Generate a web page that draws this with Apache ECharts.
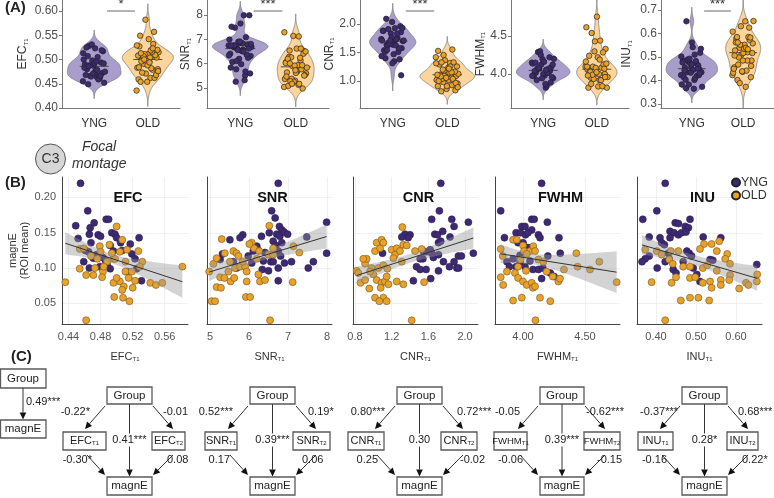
<!DOCTYPE html>
<html><head><meta charset="utf-8">
<script src="https://cdn.jsdelivr.net/npm/echarts@6/dist/echarts.min.js"></script>
<style>html,body{margin:0;padding:0;background:#fff}#c{width:774px;height:498px}</style>
</head><body><div id="c"></div>
<script>
// ---------------- DATA ----------------
const groups = ['YNG', 'OLD'];
const metricNames = ['EFC', 'SNR', 'CNR', 'FWHM', 'INU'];
// [metric T1 value, magnE (ROI mean)]
const efcYNG = [[0.455,0.220],[0.464,0.181],[0.449,0.160],[0.472,0.164],[0.487,0.169],[0.490,0.169],[0.467,0.157],[0.466,0.148],[0.452,0.142],[0.477,0.147],[0.480,0.145],[0.494,0.150],[0.498,0.148],[0.500,0.143],[0.505,0.136],[0.528,0.143],[0.517,0.134],[0.492,0.132],[0.468,0.136],[0.461,0.125],[0.465,0.123],[0.475,0.119],[0.496,0.124],[0.507,0.125],[0.519,0.120],[0.471,0.114],[0.483,0.115],[0.459,0.109],[0.488,0.105],[0.492,0.099],[0.523,0.113],[0.525,0.099],[0.466,0.100],[0.531,0.082],[0.513,0.095],[0.479,0.102],[0.486,0.111]];
const efcOLD = [[0.436,0.080],[0.462,0.026],[0.500,0.159],[0.507,0.140],[0.454,0.127],[0.459,0.128],[0.479,0.131],[0.491,0.133],[0.480,0.123],[0.496,0.113],[0.454,0.099],[0.462,0.090],[0.471,0.090],[0.483,0.095],[0.482,0.087],[0.498,0.113],[0.504,0.123],[0.511,0.109],[0.527,0.124],[0.532,0.109],[0.511,0.095],[0.515,0.086],[0.504,0.081],[0.496,0.079],[0.509,0.074],[0.497,0.059],[0.508,0.058],[0.516,0.053],[0.507,0.069],[0.520,0.072],[0.542,0.079],[0.549,0.076],[0.557,0.079],[0.582,0.102],[0.529,0.102],[0.519,0.095],[0.473,0.100],[0.468,0.117],[0.488,0.109],[0.484,0.102],[0.523,0.082],[0.500,0.086],[0.476,0.113],[0.494,0.121],[0.513,0.126]];
const snrYNG = [[6.75,0.220],[6.58,0.181],[6.67,0.171],[6.78,0.159],[6.84,0.154],[5.84,0.147],[5.51,0.140],[5.77,0.143],[6.32,0.145],[6.52,0.150],[6.71,0.148],[6.79,0.145],[6.90,0.151],[6.99,0.148],[7.99,0.165],[7.48,0.144],[7.99,0.121],[7.65,0.109],[7.52,0.100],[7.09,0.109],[6.62,0.138],[6.69,0.132],[6.84,0.136],[6.75,0.124],[6.24,0.125],[6.20,0.131],[6.41,0.122],[5.32,0.120],[5.26,0.112],[5.60,0.109],[5.98,0.117],[6.07,0.107],[6.37,0.110],[6.56,0.109],[6.34,0.098],[6.50,0.096],[6.75,0.100],[6.62,0.109],[6.91,0.107],[6.75,0.082],[5.68,0.100],[6.11,0.124],[6.81,0.117]];
const snrOLD = [[5.04,0.053],[5.13,0.053],[6.54,0.026],[6.52,0.160],[5.30,0.141],[6.07,0.136],[6.13,0.128],[5.38,0.121],[5.60,0.124],[5.68,0.121],[5.09,0.106],[4.98,0.095],[5.26,0.087],[5.37,0.086],[5.17,0.073],[5.28,0.072],[5.53,0.081],[5.62,0.086],[5.64,0.100],[5.77,0.102],[5.90,0.102],[5.84,0.109],[5.94,0.081],[6.28,0.081],[6.41,0.083],[5.92,0.059],[6.03,0.059],[6.24,0.091],[6.26,0.124],[6.50,0.119],[6.62,0.119],[6.20,0.113],[5.94,0.095],[7.14,0.131],[7.29,0.122],[7.12,0.080],[6.01,0.134],[5.51,0.109],[5.73,0.117],[5.47,0.095],[6.62,0.128],[5.17,0.114]];
const cnrYNG = [[1.735,0.220],[1.72,0.181],[1.636,0.169],[1.855,0.169],[2.036,0.165],[1.88,0.159],[1.756,0.152],[1.67,0.148],[1.70,0.147],[1.345,0.148],[1.40,0.147],[1.38,0.143],[1.836,0.144],[1.71,0.136],[1.735,0.138],[1.62,0.126],[1.575,0.123],[1.636,0.121],[1.54,0.113],[1.51,0.113],[1.655,0.115],[1.71,0.119],[1.927,0.117],[2.09,0.121],[1.96,0.117],[1.764,0.109],[1.88,0.109],[1.83,0.102],[1.91,0.100],[1.93,0.100],[1.47,0.102],[1.51,0.098],[1.575,0.098],[1.71,0.096],[1.436,0.082],[1.625,0.085],[1.545,0.124],[1.10,0.121],[1.31,0.144]];
const cnrOLD = [[1.418,0.026],[1.316,0.158],[0.818,0.096],[0.836,0.093],[0.86,0.079],[0.91,0.106],[0.927,0.113],[0.98,0.100],[0.956,0.071],[1.018,0.058],[1.109,0.058],[1.065,0.053],[1.145,0.053],[1.018,0.124],[1.073,0.128],[1.036,0.136],[1.09,0.140],[1.109,0.136],[1.0,0.091],[1.036,0.083],[1.09,0.079],[1.127,0.081],[1.145,0.088],[1.08,0.072],[1.164,0.077],[1.055,0.100],[1.109,0.104],[1.153,0.099],[1.2,0.126],[1.255,0.128],[1.236,0.119],[1.29,0.124],[1.327,0.133],[1.364,0.132],[1.31,0.109],[1.255,0.081],[1.327,0.077],[0.964,0.095],[0.91,0.083],[1.527,0.127],[1.553,0.080],[1.455,0.124],[0.89,0.113],[1.218,0.114]];
const fwhmYNG = [[4.15,0.220],[3.82,0.181],[4.07,0.169],[4.09,0.169],[4.196,0.165],[3.99,0.159],[4.016,0.159],[4.07,0.154],[3.944,0.150],[3.98,0.150],[4.02,0.147],[4.04,0.150],[4.124,0.147],[4.137,0.143],[3.85,0.143],[4.29,0.143],[3.96,0.136],[4.0,0.136],[4.04,0.129],[4.07,0.127],[4.30,0.121],[4.20,0.117],[3.87,0.109],[3.92,0.113],[3.89,0.102],[3.944,0.102],[3.976,0.109],[4.016,0.102],[4.08,0.098],[4.124,0.098],[4.16,0.100],[4.15,0.085],[4.22,0.093],[4.25,0.088],[3.976,0.118],[4.056,0.110]];
const fwhmOLD = [[4.10,0.026],[3.92,0.140],[3.95,0.140],[4.0,0.132],[4.008,0.124],[4.056,0.124],[4.083,0.131],[4.097,0.124],[3.82,0.127],[3.836,0.117],[4.03,0.120],[4.124,0.112],[4.43,0.121],[4.615,0.109],[4.44,0.102],[4.54,0.098],[4.33,0.098],[4.755,0.080],[3.82,0.087],[3.84,0.076],[3.935,0.093],[3.96,0.086],[4.0,0.081],[4.03,0.076],[4.07,0.079],[4.08,0.072],[4.097,0.074],[3.92,0.054],[3.99,0.058],[4.137,0.058],[4.22,0.053],[4.24,0.088],[4.285,0.081],[4.298,0.085],[4.164,0.109],[4.19,0.095],[3.87,0.095],[3.96,0.102],[4.024,0.096],[3.98,0.112]];
const inuYNG = [[0.423,0.220],[0.402,0.181],[0.367,0.169],[0.448,0.164],[0.456,0.163],[0.485,0.169],[0.473,0.159],[0.481,0.157],[0.435,0.152],[0.445,0.150],[0.456,0.147],[0.464,0.150],[0.475,0.151],[0.383,0.144],[0.410,0.143],[0.435,0.143],[0.518,0.144],[0.562,0.143],[0.414,0.136],[0.421,0.133],[0.383,0.117],[0.373,0.113],[0.365,0.109],[0.403,0.100],[0.423,0.109],[0.433,0.113],[0.477,0.124],[0.483,0.121],[0.489,0.117],[0.535,0.112],[0.542,0.111],[0.443,0.098],[0.450,0.093],[0.493,0.100],[0.502,0.091],[0.510,0.081],[0.652,0.105],[0.431,0.121],[0.468,0.109]];
const inuOLD = [[0.423,0.026],[0.373,0.126],[0.402,0.124],[0.414,0.119],[0.437,0.124],[0.456,0.124],[0.520,0.134],[0.539,0.134],[0.558,0.138],[0.552,0.124],[0.578,0.120],[0.573,0.113],[0.510,0.127],[0.433,0.112],[0.442,0.106],[0.468,0.102],[0.485,0.102],[0.517,0.100],[0.528,0.104],[0.585,0.106],[0.552,0.096],[0.653,0.091],[0.652,0.081],[0.585,0.090],[0.583,0.083],[0.439,0.079],[0.450,0.087],[0.485,0.086],[0.498,0.087],[0.517,0.079],[0.535,0.081],[0.562,0.083],[0.625,0.079],[0.631,0.076],[0.608,0.071],[0.539,0.072],[0.562,0.076],[0.462,0.054],[0.485,0.058],[0.506,0.058],[0.533,0.054],[0.389,0.080]];

const violinTicks = [[0.40,0.45,0.50,0.55,0.60],[5,6,7,8],[1.0,1.5,2.0],[4.0,4.5],[0.3,0.4,0.5,0.6,0.7]];
const violinTickDec = [2,0,1,1,1];
const scatterXTicks = [[0.44,0.48,0.52,0.56],[5,6,7,8],[0.8,1.2,1.6,2.0],[4.00,4.50],[0.40,0.50,0.60]];
const scatterXDec = [2,0,1,2,2];
const magnETicks = [0.05,0.10,0.15,0.20];
const sigStars = ['*','***','***','','***'];
const sigLevels = [0.60, 8.18, 2.233, null, 0.697];
const totalEffect = '0.49***';
const pathGroupT1 = ['-0.22*','0.52***','0.80***','-0.05','-0.37***'];
const pathGroupT2 = ['-0.01','0.19*','0.72***','-0.62***','0.68***'];
const pathDirect  = ['0.41***','0.39***','0.30','0.39***','0.28*'];
const pathT1Magn  = ['-0.30*','0.17','0.25','-0.06','-0.16'];
const pathT2Magn  = ['0.08','0.06','-0.02','-0.15','0.22*'];

// ---------------- LAYOUT ----------------
const FONT = '"Liberation Sans", Arial, sans-serif';
const dataSets = [[efcYNG,efcOLD],[snrYNG,snrOLD],[cnrYNG,cnrOLD],[fwhmYNG,fwhmOLD],[inuYNG,inuOLD]];
const A = [
  {left:62, width:118, min:0.40, max:0.6227, gap:33},
  {left:207,width:122, min:4.178,max:8.617, gap:15},
  {left:360,width:120, min:0.526,max:2.421, gap:23},
  {left:511,width:118, min:3.553,max:4.974, gap:19},
  {left:661,width:118, min:0.283,max:0.7426,gap:28}
];
const B = [
  {left:62, width:126, min:0.4319,max:0.589},
  {left:207,width:125, min:4.923, max:8.128},
  {left:353,width:125, min:0.778, max:2.141},
  {left:495,width:125, min:3.774, max:4.782},
  {left:637,width:125, min:0.3525,max:0.665}
];
const B_TOP = 177, B_H = 147, MAG_MIN = 0.0207, MAG_MAX = 0.229;
const PT = {YNG:'#3d2a72', OLD:'#eaa12a'};
const VFILL = ['#a89dcb', '#fbd59c'];

function sub(name, a, b){ return `{${a}|${name}}{${b}|T1}`; }
function mean(a){ return a.reduce((s,v)=>s+v,0)/a.length; }
function quant(sorted,p){ const h=(sorted.length-1)*p, lo=Math.floor(h), hi=Math.ceil(h); return sorted[lo]+(sorted[hi]-sorted[lo])*(h-lo); }
function kde(vals){
  const n=vals.length, m=mean(vals);
  const sd=Math.sqrt(vals.reduce((s,v)=>s+(v-m)*(v-m),0)/(n-1));
  const s=[...vals].sort((x,y)=>x-y);
  const iqr=quant(s,0.75)-quant(s,0.25);
  const bw=0.9*Math.min(sd, iqr/1.34)*Math.pow(n,-0.2);
  const lo=s[0]-3*bw, hi=s[n-1]+3*bw, K=120, ys=[], ds=[];
  for(let k=0;k<=K;k++){
    const y=lo+(hi-lo)*k/K; let d=0;
    for(const v of vals){ const z=(y-v)/bw; d+=Math.exp(-0.5*z*z); }
    ys.push(y); ds.push(d/(n*bw*Math.sqrt(2*Math.PI)));
  }
  return {ys, ds, med:quant(s,0.5), max:Math.max(...ds)};
}
function linfit(pts){
  const n=pts.length, xs=pts.map(p=>p[0]), ys=pts.map(p=>p[1]);
  const mx=mean(xs), my=mean(ys);
  let sxx=0, sxy=0; for(let i=0;i<n;i++){ sxx+=(xs[i]-mx)**2; sxy+=(xs[i]-mx)*(ys[i]-my); }
  const b=sxy/sxx, a=my-b*mx;
  let sse=0; for(let i=0;i<n;i++){ sse+=(ys[i]-a-b*xs[i])**2; }
  const s=Math.sqrt(sse/(n-2)), t=1.99;
  const x0=Math.min(...xs), x1=Math.max(...xs), K=60, gx=[], hi=[], lo=[];
  for(let k=0;k<=K;k++){ const x=x0+(x1-x0)*k/K, y=a+b*x, se=s*Math.sqrt(1/n+(x-mx)**2/sxx); gx.push(x); hi.push(y+t*se); lo.push(y-t*se); }
  return {a,b,x0,x1,gx,hi,lo};
}
function jitter(k){ return (((k*0.6180339887)%1)-0.5)*0.42; }

const grids=[], xAxes=[], yAxes=[], series=[], graphics=[];
const nameRich = (fs, sfs) => ({a:{fontSize:fs,color:'#333',fontFamily:FONT}, b:{fontSize:sfs,color:'#333',fontFamily:FONT,verticalAlign:'bottom',lineHeight:sfs+2}});

// ---- Panel A: violins ----
A.forEach((g,i)=>{
  grids.push({left:g.left, top:0, width:g.width, height:108});
  xAxes.push({gridIndex:i, type:'value', min:0.4, max:2.6,
    axisLine:{show:true, onZero:false, lineStyle:{color:'#777',width:1}},
    axisTick:{show:false, customValues:[1,2]}, splitLine:{show:false},
    axisLabel:{customValues:[1,2], formatter:v=>groups[Math.round(v)-1], fontSize:12, color:'#333', margin:10, fontFamily:FONT}});
  yAxes.push({gridIndex:i, type:'value', min:g.min, max:g.max,
    axisLine:{show:true, onZero:false, lineStyle:{color:'#777',width:1}},
    axisTick:{show:true, length:3, customValues:violinTicks[i], lineStyle:{color:'#777'}},
    axisLabel:{customValues:violinTicks[i], formatter:v=>v.toFixed(violinTickDec[i]), fontSize:12, color:'#4d4d4d', margin:4, fontFamily:FONT},
    splitLine:{show:false},
    name:sub(metricNames[i],'a','b'), nameLocation:'middle', nameGap:g.gap, nameRotate:90,
    nameTextStyle:{rich:nameRich(12,6)}});
  const vd = dataSets[i].map(d=>kde(d.map(p=>p[0])));
  const sc = 0.5/Math.max(vd[0].max, vd[1].max);
  series.push({type:'custom', xAxisIndex:i, yAxisIndex:i, data:[[0],[1]], silent:true, clip:true, z:1,
    renderItem:(params, api)=>{
      const gi=api.value(0), v=vd[gi], c=gi+1, r=[], l=[];
      for(let k=0;k<v.ys.length;k++){ r.push(api.coord([c+v.ds[k]*sc, v.ys[k]])); l.push(api.coord([c-v.ds[k]*sc, v.ys[k]])); }
      const m1=api.coord([c-0.27, v.med]), m2=api.coord([c+0.27, v.med]);
      return {type:'group', children:[
        {type:'polygon', shape:{points:r.concat(l.reverse())}, style:{fill:VFILL[gi], stroke:'#808080', lineWidth:0.8}},
        {type:'line', shape:{x1:m1[0],y1:m1[1],x2:m2[0],y2:m2[1]}, style:{stroke:'#3a3a3a', lineWidth:0.9}}
      ]};
    }});
  groups.forEach((gn,gi)=>{
    const s = {type:'scatter', name:gn, xAxisIndex:i, yAxisIndex:i, symbolSize:5.5, z:2, silent:true,
      data:dataSets[i][gi].map((p,k)=>[gi+1+jitter(k), p[0]]),
      itemStyle:{color:PT[gn], borderColor:'#222', borderWidth:0.7, opacity:1}};
    if(gi===0 && sigLevels[i]!==null){
      s.markLine={silent:true, symbol:'none', animation:false,
        lineStyle:{color:'#9a9a9a', width:1.5, type:'solid'},
        label:{show:true, formatter:sigStars[i], position:'insideMiddleTop', distance:0, fontSize:13, color:'#333', fontFamily:FONT},
        data:[[{coord:[1.24, sigLevels[i]]},{coord:[1.76, sigLevels[i]]}]]};
    }
    series.push(s);
  });
});

// ---- Panel B: scatter + regression ----
B.forEach((g,j)=>{
  const i=5+j;
  grids.push({left:g.left, top:B_TOP, width:g.width, height:B_H});
  xAxes.push({gridIndex:i, type:'value', min:g.min, max:g.max,
    axisLine:{show:true, onZero:false, lineStyle:{color:'#444',width:1}},
    axisTick:{show:false, customValues:scatterXTicks[j]},
    axisLabel:{customValues:scatterXTicks[j], formatter:v=>v.toFixed(scatterXDec[j]), fontSize:11, color:'#555', margin:7, fontFamily:FONT},
    splitLine:{show:true, lineStyle:{color:'#ececec', width:0.8}},
    name:sub(metricNames[j],'a','b'), nameLocation:'middle', nameGap:27,
    nameTextStyle:{rich:nameRich(11,6)}});
  yAxes.push({gridIndex:i, type:'value', min:MAG_MIN, max:MAG_MAX,
    axisLine:{show:true, onZero:false, lineStyle:{color:'#444',width:1}},
    axisTick:{show:false, customValues:magnETicks},
    axisLabel:{show:j===0, customValues:magnETicks, formatter:v=>v.toFixed(2), fontSize:11, color:'#555', margin:6, fontFamily:FONT},
    splitLine:{show:true, lineStyle:{color:'#ececec', width:0.8}},
    name:j===0?'magnE\n(ROI mean)':'', nameLocation:'middle', nameGap:29,
    nameTextStyle:{fontSize:11, lineHeight:12, color:'#333', fontFamily:FONT}});
  groups.forEach((gn,gi)=>{
    series.push({type:'scatter', name:gn, xAxisIndex:i, yAxisIndex:i, symbolSize:7, z:2, silent:true,
      data:dataSets[j][gi],
      itemStyle:{color:PT[gn], borderColor:gi===0?'#2a1c52':'#6d5520', borderWidth:0.6, opacity:1}});
  });
  const fit = linfit(dataSets[j][0].concat(dataSets[j][1]));
  series.push({type:'custom', xAxisIndex:i, yAxisIndex:i, data:[[fit.x0, fit.a+fit.b*fit.x0]], silent:true, z:3,
    renderItem:(params, api)=>{
      const up=fit.gx.map((x,k)=>api.coord([x,fit.hi[k]])), lo=fit.gx.map((x,k)=>api.coord([x,fit.lo[k]]));
      return {type:'polygon', shape:{points:up.concat(lo.reverse())}, style:{fill:'rgba(150,150,150,0.42)'}};
    }});
  series.push({type:'line', xAxisIndex:i, yAxisIndex:i, silent:true, z:4, symbol:'none',
    data:[[fit.x0, fit.a+fit.b*fit.x0],[fit.x1, fit.a+fit.b*fit.x1]],
    lineStyle:{color:'#333', width:1}});
  graphics.push({type:'text', x:g.left+g.width/2+3, y:198, silent:true, z:10,
    style:{text:metricNames[j], font:`bold 14.5px ${FONT}`, fill:'#111', align:'center', verticalAlign:'middle', textAlign:'center', textVerticalAlign:'middle'}});
});

// ---- annotation graphics ----
function txt(x,y,text,font,align,fill){ return {type:'text', x, y, silent:true, z:10, style:{text, font, fill:fill||'#222', align:align||'left', verticalAlign:'middle', textAlign:align||'left', textVerticalAlign:'middle'}}; }
graphics.push(txt(5,8,'(A)',`bold 15px ${FONT}`,'left','#222'));
graphics.push(txt(5,183,'(B)',`bold 15px ${FONT}`,'left','#222'));
graphics.push(txt(11,357,'(C)',`bold 15px ${FONT}`,'left','#222'));
graphics.push({type:'circle', silent:true, shape:{cx:50.5, cy:159, r:15}, style:{fill:'#d6d6d6', stroke:'#555', lineWidth:1}});
graphics.push(txt(50.5,159,'C3',`14px ${FONT}`,'center','#333'));
graphics.push(txt(82,147,'Focal',`italic 14px ${FONT}`,'left','#333'));
graphics.push(txt(72,164,'montage',`italic 14px ${FONT}`,'left','#333'));

// ---- Panel C: path diagrams ----
const STROKE='#5a5a5a';
const BOXF = `11.5px ${FONT}`, LABF = `11px ${FONT}`;
function box(x0,x1,y0,y1){ return {type:'rect', silent:true, shape:{x:x0,y:y0,width:x1-x0,height:y1-y0}, style:{fill:'#fff', stroke:STROKE, lineWidth:1.3}}; }
function arrow(x1,y1,x2,y2){
  const dx=x2-x1, dy=y2-y1, L=Math.hypot(dx,dy), ux=dx/L, uy=dy/L, hl=7, hw=3.3;
  const bx=x2-ux*hl, by=y2-uy*hl;
  return [{type:'line', silent:true, shape:{x1,y1,x2:bx,y2:by}, style:{stroke:'#333', lineWidth:1}},
          {type:'polygon', silent:true, shape:{points:[[x2,y2],[bx-uy*hw,by+ux*hw],[bx+uy*hw,by-ux*hw]]}, style:{fill:'#111'}}];
}
function subText(x,y,name,tag,fs){
  return {type:'text', x, y, silent:true, z:10, style:{text:`{a|${name}}{b|${tag}}`, align:'center', verticalAlign:'middle', textAlign:'center', textVerticalAlign:'middle',
    rich:{a:{fontSize:fs, fontFamily:FONT, fill:'#222', color:'#222'}, b:{fontSize:6, fontFamily:FONT, fill:'#222', color:'#222', verticalAlign:'bottom', lineHeight:8}}}};
}
// mini total-effect diagram
graphics.push(box(0.5,46,369,388));
graphics.push(txt(23,378.5,'Group',BOXF,'center'));
graphics.push(...arrow(23,388,23,419.5));
graphics.push(box(0.5,46,420,438));
graphics.push(txt(23,429,'magnE',BOXF,'center'));
graphics.push(txt(26,402,totalEffect,LABF,'left'));

const diag = [
  {g:[107,152], t1:[63,106], t2:[152,185], fs:11, l:[90,163,92,167]},
  {g:[250,295], t1:[205,237], t2:[293,330], fs:11, l:[233,308,230,302]},
  {g:[397,442], t1:[348,384], t2:[441,477], fs:11, l:[385,457,378,460]},
  {g:[540,584], t1:[494,527], t2:[584,620], fs:9.5, l:[520,586,523,597]},
  {g:[682,727], t1:[638,673], t2:[727,758], fs:11, l:[678,738,667,742]}
];
diag.forEach((d,i)=>{
  const [gL,gR]=d.g, gc=(gL+gR)/2;
  graphics.push(box(gL,gR,387,404), txt(gc,395.5,'Group',BOXF,'center'));
  graphics.push(box(d.t1[0],d.t1[1],432,450), subText((d.t1[0]+d.t1[1])/2,441,metricNames[i],'T1',d.fs));
  graphics.push(box(d.t2[0],d.t2[1],432,450), subText((d.t2[0]+d.t2[1])/2,441,metricNames[i],'T2',d.fs));
  graphics.push(box(gL,gR,477,495), txt(gc,486,'magnE',BOXF,'center'));
  graphics.push(...arrow(gL-2,406,gL-22,429));
  graphics.push(...arrow(gR+1,406,gR+21,429));
  graphics.push(...arrow(gL-20,455,gL-2,475));
  graphics.push(...arrow(gR+21,455,gR+1,475));
  graphics.push(...arrow(gc,404,gc,476.5));
  graphics.push({type:'text', x:gc, y:440, silent:true, z:10, style:{text:pathDirect[i], font:LABF, fill:'#222', align:'center', verticalAlign:'middle', textAlign:'center', textVerticalAlign:'middle', backgroundColor:'#fff', padding:[1,1]}});
  graphics.push(txt(d.l[0],412,pathGroupT1[i],LABF,'right'));
  graphics.push(txt(d.l[1],412,pathGroupT2[i],LABF,'left'));
  graphics.push(txt(d.l[2],460,pathT1Magn[i],LABF,'right'));
  graphics.push(txt(d.l[3],460,pathT2Magn[i],LABF,'left'));
});

const chart = echarts.init(document.getElementById('c'), null, {renderer:'canvas'});
chart.setOption({
  animation:false, backgroundColor:'#fff',
  textStyle:{fontFamily:FONT},
  grid:grids, xAxis:xAxes, yAxis:yAxes, series,
  legend:{data:['YNG','OLD'], orient:'vertical', left:731, top:176, padding:0, itemWidth:8, itemHeight:8, itemGap:0, icon:'circle', selectedMode:false,
    textStyle:{fontSize:12.5, color:'#333', fontFamily:FONT, padding:[0,0,0,-4]}},
  graphic:{elements:graphics}
});
</script>
</body></html>
